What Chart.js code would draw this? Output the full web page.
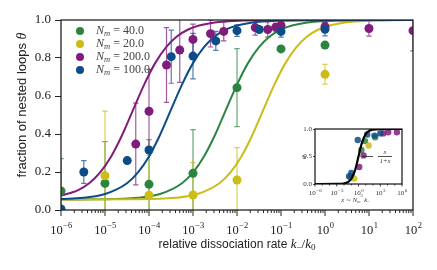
<!DOCTYPE html>
<html lang="en">
<head>
<meta charset="UTF-8">
<title>Fraction of nested loops vs dissociation rate</title>
<script src="https://cdn.jsdelivr.net/npm/chart.js"></script>
<style>
  html, body { margin: 0; padding: 0; background: #fff; }
  #wrap { position: relative; width: 437px; height: 270px; }
  #mainChart { position: absolute; left: 0; top: 0; }
  #insetChart { position: absolute; left: 290px; top: 119px; }
</style>
</head>
<body>
<div id="wrap">
  <canvas id="mainChart" width="437" height="270"></canvas>
  <canvas id="insetChart" width="124" height="91"></canvas>
</div>

<script>
  // ---- main panel data (k = k_-/k_0, theta = fraction of nested loops) ----
  const nm40K     = [1e-6, 1e-5, 1e-4, 1e-3, 1e-2, 1e-1, 1];
  const nm40Theta = [0.10, 0.14, 0.135, 0.193, 0.644, 0.848, 0.868];
  const nm40Err   = [0.17, 0.22, 0.235, 0.23, 0.205, 0, 0];

  const nm20K     = [1e-5, 1e-4, 1e-3, 1e-2, 1];
  const nm20Theta = [0.18, 0.077, 0.079, 0.158, 0.714];
  const nm20Err   = [0.34, 0.21, 0.17, 0.17, 0.052];

  const nm200K     = [5e-5, 1e-4, 2.5e-4, 5e-4, 1e-3, 2.5e-3, 5e-3, 2.6e-2, 5e-2, 7.6e-2, 1e-1, 1, 10, 100];
  const nm200Theta = [0.347, 0.52, 0.763, 0.842, 0.898, 0.928, 0.94, 0.96, 0.95, 0.962, 0.972, 0.965, 0.955, 0.944];
  const nm200Err   = [0.215, 0.22, 0.197, 0.17, 0.08, 0.07, 0.05, 0.04, 0.04, 0.02, 0.02, 0.02, 0.04, 0.107];

  const nm100K     = [1e-6, 3.3e-6, 3.2e-5, 1e-4, 3.2e-4, 1e-3, 3.3e-3, 1e-2, 3.2e-2, 1e-1, 1];
  const nm100Theta = [0.005, 0.20, 0.26, 0.316, 0.807, 0.81, 0.89, 0.944, 0.95, 0.94, 0.951];
  const nm100Err   = [0, 0.06, 0, 0, 0.14, 0.12, 0.05, 0.03, 0, 0.03, 0.035];

  // fitted curves (x = log10 k)
  const fit40LogK  = [-6, -5.25, -4.25, -3.75, -3.25, -3, -2.75, -2.5, -2.25, -2, -1.75, -1.5, -1.25, -1, -0.75, -0.25, 0.25, 0.75, 2];
  const fit40Theta = [0.055, 0.056, 0.064, 0.084, 0.141, 0.198, 0.282, 0.395, 0.528, 0.660, 0.773, 0.857, 0.914, 0.950, 0.971, 0.991, 0.997, 0.999, 1.0];

  const fit20LogK  = [-6, -4.4, -3.4, -2.9, -2.4, -2.15, -1.9, -1.65, -1.4, -1.15, -0.9, -0.65, -0.4, -0.15, 0.1, 0.6, 1.1, 1.6, 2];
  const fit20Theta = [0.055, 0.056, 0.064, 0.084, 0.141, 0.198, 0.282, 0.395, 0.528, 0.660, 0.773, 0.857, 0.914, 0.950, 0.971, 0.991, 0.997, 0.999, 1.0];

  const fit200LogK  = [-6, -5.61, -5.36, -5.11, -4.86, -4.61, -4.36, -4.11, -3.86, -3.61, -3.36, -3.11, -2.86, -2.36, -1.86, -1.36, 2];
  const fit200Theta = [0.076, 0.105, 0.141, 0.198, 0.282, 0.395, 0.528, 0.660, 0.773, 0.857, 0.914, 0.950, 0.971, 0.991, 0.997, 0.999, 1.0];

  const fit100LogK  = [-6, -5.5, -5, -4.5, -4.25, -4, -3.75, -3.5, -3.25, -3, -2.75, -2.5, -2.25, -2, -1.5, -1, -0.5, 2];
  const fit100Theta = [0.058, 0.064, 0.084, 0.141, 0.198, 0.282, 0.395, 0.528, 0.660, 0.773, 0.857, 0.914, 0.950, 0.971, 0.991, 0.997, 0.999, 1.0];

  // ---- inset data (x = log10 of scaled rate) ----
  const insetBlueLogX   = [-1.3, -1.0, -0.1, 1.2, 2.2, 3.0];
  const insetBlueY      = [0.14, 0.20, 0.80, 0.90, 0.88, 0.92];
  const insetPurpleLogX = [0.1, 0.7, 3.4, 4.1, 5.3];
  const insetPurpleY    = [0.31, 0.52, 0.92, 0.94, 0.94];
  const insetYellowLogX = [-0.6, 1.4];
  const insetYellowY    = [0.10, 0.70];
  const insetGreenLogX  = [-1.1, 0.4, 0.9, 2.3];
  const insetGreenY     = [0.12, 0.62, 0.78, 0.85];
  const insetCurveLogX  = [-6, -3, -2, -1.5, -1, -0.5, -0.25, 0, 0.25, 0.5, 1, 1.5, 2, 3, 6];
  const insetCurveY     = [0, 0.001, 0.0099, 0.031, 0.091, 0.240, 0.360, 0.5, 0.640, 0.760, 0.909, 0.969, 0.990, 0.999, 1];

  const xDecades = [-6, -5, -4, -3, -2, -1, 0, 1, 2];
  const yTicks = [0, 0.2, 0.4, 0.6, 0.8, 1.0];
  const insetXDecades = [-6, -3, 0, 3, 6];

  const GREEN = '#2b8540', YELLOW = '#cbbd16', PURPLE = '#801c7c', BLUE = '#0d4b89';
  const SERIF = '"Liberation Serif", "DejaVu Serif", serif';
  const SANS = '"Liberation Sans", Arial, sans-serif';

  // series in legend order
  const series = [
    { label: '40.0',  color: GREEN,  k: nm40K,  theta: nm40Theta,  err: nm40Err,  fitX: fit40LogK,  fitY: fit40Theta,  order: 3 },
    { label: '20.0',  color: YELLOW, k: nm20K,  theta: nm20Theta,  err: nm20Err,  fitX: fit20LogK,  fitY: fit20Theta,  order: 2 },
    { label: '200.0', color: PURPLE, k: nm200K, theta: nm200Theta, err: nm200Err, fitX: fit200LogK, fitY: fit200Theta, order: 1 },
    { label: '100.0', color: BLUE,   k: nm100K, theta: nm100Theta, err: nm100Err, fitX: fit100LogK, fitY: fit100Theta, order: 0 }
  ];

  function alpha(hex, a) {
    const n = parseInt(hex.slice(1), 16);
    return `rgba(${n >> 16}, ${(n >> 8) & 255}, ${n & 255}, ${a})`;
  }

  // "10" with a raised exponent, centred on cx
  function drawPow(ctx, e, cx, cy, baseSize, expSize, color) {
    const expText = e < 0 ? '\u2212' + Math.abs(e) : String(e);
    ctx.fillStyle = color;
    ctx.textBaseline = 'middle';
    ctx.textAlign = 'left';
    ctx.font = `${baseSize}px ${SERIF}`;
    const wb = ctx.measureText('10').width;
    ctx.font = `${expSize}px ${SERIF}`;
    const we = ctx.measureText(expText).width;
    const x0 = cx - (wb + we) / 2;
    ctx.font = `${baseSize}px ${SERIF}`;
    ctx.fillText('10', x0, cy);
    ctx.font = `${expSize}px ${SERIF}`;
    ctx.fillText(expText, x0 + wb + 0.5, cy - baseSize * 0.38);
  }

  // write a row of [text, font, dy] pieces starting at x
  function drawPieces(ctx, pieces, x, y) {
    let cx = x;
    pieces.forEach(([t, f, dy]) => {
      ctx.font = f;
      ctx.fillText(t, cx, y + (dy || 0));
      cx += ctx.measureText(t).width;
    });
    return cx;
  }
  function piecesWidth(ctx, pieces) {
    let w = 0;
    pieces.forEach(([t, f]) => { ctx.font = f; w += ctx.measureText(t).width; });
    return w;
  }

  const mainDecor = {
    id: 'mainDecor',
    beforeDatasetsDraw(chart) {
      const { ctx, chartArea: a, scales: { x, y } } = chart;
      ctx.save();
      ctx.beginPath();
      ctx.rect(a.left, a.top, a.right - a.left, a.bottom - a.top);
      ctx.clip();
      ctx.lineWidth = 1.2;
      series.forEach(s => {
        ctx.strokeStyle = alpha(s.color, 0.72);
        s.k.forEach((k, i) => {
          const e = s.err[i];
          if (!e) return;
          const px = x.getPixelForValue(Math.log10(k));
          const y1 = y.getPixelForValue(s.theta[i] + e);
          const y2 = y.getPixelForValue(s.theta[i] - e);
          ctx.beginPath();
          ctx.moveTo(px, y1); ctx.lineTo(px, y2);
          ctx.moveTo(px - 2.7, y1); ctx.lineTo(px + 2.7, y1);
          ctx.moveTo(px - 2.7, y2); ctx.lineTo(px + 2.7, y2);
          ctx.stroke();
        });
      });
      ctx.restore();
    },
    afterDraw(chart) {
      const { ctx, chartArea: a, scales: { x } } = chart;
      ctx.save();
      // frame
      ctx.strokeStyle = '#222';
      ctx.lineWidth = 1.3;
      ctx.strokeRect(a.left, a.top, a.right - a.left, a.bottom - a.top);

      // x ticks, major and minor, and power-of-ten labels
      ctx.lineWidth = 1;
      ctx.beginPath();
      xDecades.forEach((n, i) => {
        const px = x.getPixelForValue(n);
        ctx.moveTo(px, a.bottom); ctx.lineTo(px, a.bottom + 6);
        if (i < xDecades.length - 1) {
          for (let m = 2; m <= 9; m++) {
            const p = x.getPixelForValue(n + Math.log10(m));
            ctx.moveTo(p, a.bottom); ctx.lineTo(p, a.bottom + 3);
          }
        }
      });
      ctx.stroke();
      xDecades.forEach(n => drawPow(ctx, n, x.getPixelForValue(n), a.bottom + 21, 12.5, 8.5, '#222'));

      // x title
      ctx.fillStyle = '#222';
      ctx.textBaseline = 'middle';
      ctx.textAlign = 'left';
      const xt = [
        ['relative dissociation rate ', `12px ${SANS}`],
        ['k', `italic 13px ${SERIF}`],
        ['\u2212', `9px ${SERIF}`, 3],
        ['/', `13px ${SERIF}`],
        ['k', `italic 13px ${SERIF}`],
        ['0', `9px ${SERIF}`, 3]
      ];
      const xtw = piecesWidth(ctx, xt);
      drawPieces(ctx, xt, (a.left + a.right) / 2 - xtw / 2, 245);

      // y title
      const yt = [
        ['fraction of nested loops ', `13px ${SANS}`],
        ['\u03b8', `italic 14px ${SERIF}`]
      ];
      const ytw = piecesWidth(ctx, yt);
      ctx.save();
      ctx.translate(22, 105);
      ctx.rotate(-Math.PI / 2);
      drawPieces(ctx, yt, -ytw / 2, 0);
      ctx.restore();

      // legend
      series.forEach((s, i) => {
        const ly = 31 + i * 13;
        ctx.fillStyle = s.color;
        ctx.beginPath();
        ctx.arc(80, ly, 4, 0, Math.PI * 2);
        ctx.fill();
        ctx.fillStyle = '#444';
        drawPieces(ctx, [
          ['N', `italic 12px ${SERIF}`],
          ['m', `italic 8.5px ${SERIF}`, 3],
          [' = ' + s.label, `12px ${SERIF}`]
        ], 96, ly);
      });
      ctx.restore();
    }
  };

  const mainDatasets = [];
  series.forEach(s => {
    mainDatasets.push({
      type: 'scatter',
      data: s.k.map((k, i) => ({ x: Math.log10(k), y: s.theta[i] })),
      backgroundColor: s.color,
      borderWidth: 0,
      pointRadius: 4.5,
      clip: 0,
      order: s.order
    });
    mainDatasets.push({
      type: 'line',
      data: s.fitX.map((v, i) => ({ x: v, y: s.fitY[i] })),
      borderColor: s.color,
      borderWidth: 2,
      pointRadius: 0,
      fill: false,
      cubicInterpolationMode: 'monotone',
      clip: 0,
      order: 10 + s.order
    });
  });

  new Chart(document.getElementById('mainChart'), {
    type: 'scatter',
    data: { datasets: mainDatasets },
    options: {
      responsive: false,
      animation: false,
      devicePixelRatio: 1,
      layout: { padding: { top: 20, right: 24, left: 0, bottom: 0 } },
      plugins: { legend: { display: false }, tooltip: { enabled: false } },
      scales: {
        x: {
          type: 'linear', min: -6, max: 2,
          ticks: { display: false },
          grid: { display: false },
          border: { display: false },
          afterFit: s => { s.height = 60; }
        },
        y: {
          type: 'linear', min: 0, max: 1,
          afterBuildTicks: s => { s.ticks = yTicks.map(v => ({ value: v })); },
          ticks: {
            font: { family: SERIF, size: 13 }, color: '#222', padding: 4,
            callback: v => v.toFixed(1)
          },
          grid: { drawOnChartArea: false, tickLength: 6, color: '#222', lineWidth: 1 },
          border: { display: false },
          afterFit: s => { s.width = 61; }
        }
      }
    },
    plugins: [mainDecor]
  });

  // ---- inset ----
  const insetDecor = {
    id: 'insetDecor',
    beforeDraw(chart) {
      const { ctx, chartArea: a } = chart;
      ctx.save();
      ctx.fillStyle = '#fff';
      ctx.fillRect(a.left, a.top, a.right - a.left, a.bottom - a.top);
      ctx.restore();
    },
    afterDraw(chart) {
      const { ctx, chartArea: a, scales: { x } } = chart;
      ctx.save();
      ctx.strokeStyle = '#111';
      ctx.lineWidth = 1.2;
      ctx.strokeRect(a.left, a.top, a.right - a.left, a.bottom - a.top);
      ctx.lineWidth = 0.8;
      ctx.beginPath();
      for (let n = -6; n <= 6; n++) {
        const p = x.getPixelForValue(n);
        const len = insetXDecades.includes(n) ? 2.5 : 1.5;
        ctx.moveTo(p, a.bottom); ctx.lineTo(p, a.bottom + len);
      }
      ctx.stroke();
      insetXDecades.forEach(n => drawPow(ctx, n, x.getPixelForValue(n), a.bottom + 9, 7, 5, '#333'));

      ctx.fillStyle = '#333';
      ctx.textBaseline = 'middle';
      ctx.textAlign = 'left';
      const xt = [
        ['x', `italic 6.5px ${SERIF}`],
        [' \u223c ', `6.5px ${SERIF}`],
        ['N', `italic 6.5px ${SERIF}`],
        ['m', `italic 4.5px ${SERIF}`, 1.8],
        ['3', `4.5px ${SERIF}`, -4.2],
        [' k', `italic 6.5px ${SERIF}`],
        ['\u2212', `4.5px ${SERIF}`, 1.8]
      ];
      const w = piecesWidth(ctx, xt);
      drawPieces(ctx, xt, (a.left + a.right) / 2 - w / 2 - 3, a.bottom + 16);

      // rotated y title
      ctx.save();
      ctx.translate(a.left - 11, (a.top + a.bottom) / 2 + 1);
      ctx.rotate(-Math.PI / 2);
      ctx.font = `italic 7px ${SERIF}`;
      ctx.textAlign = 'center';
      ctx.fillText('\u03d1', 0, 0);
      ctx.restore();

      // curve label x/(1+x)
      const ly = a.top + 27.5;
      ctx.strokeStyle = '#222';
      ctx.lineWidth = 0.8;
      ctx.beginPath();
      ctx.moveTo(a.left + 47, ly); ctx.lineTo(a.left + 58, ly);
      ctx.moveTo(a.left + 63, ly); ctx.lineTo(a.left + 77, ly);
      ctx.stroke();
      ctx.textAlign = 'center';
      ctx.font = `italic 6.5px ${SERIF}`;
      ctx.fillText('x', a.left + 70, ly - 4);
      ctx.fillText('1+x', a.left + 70, ly + 4.5);
      ctx.restore();
    }
  };

  const insetSets = [
    [insetGreenLogX, insetGreenY, GREEN, 4],
    [insetYellowLogX, insetYellowY, YELLOW, 3],
    [insetPurpleLogX, insetPurpleY, PURPLE, 2],
    [insetBlueLogX, insetBlueY, BLUE, 1]
  ];
  const insetDatasets = insetSets.map(([xs, ys, c, o]) => ({
    type: 'scatter',
    data: xs.map((v, i) => ({ x: v, y: ys[i] })),
    backgroundColor: alpha(c, 0.85),
    borderWidth: 0,
    pointRadius: 3.2,
    clip: 0,
    order: o
  }));
  insetDatasets.push({
    type: 'line',
    data: insetCurveLogX.map((v, i) => ({ x: v, y: insetCurveY[i] })),
    borderColor: '#000',
    borderWidth: 2.2,
    pointRadius: 0,
    fill: false,
    cubicInterpolationMode: 'monotone',
    clip: 0,
    order: 0
  });

  new Chart(document.getElementById('insetChart'), {
    type: 'scatter',
    data: { datasets: insetDatasets },
    options: {
      responsive: false,
      animation: false,
      devicePixelRatio: 1,
      layout: { padding: { top: 10, right: 12, left: 0, bottom: 0 } },
      plugins: { legend: { display: false }, tooltip: { enabled: false } },
      scales: {
        x: {
          type: 'linear', min: -6, max: 6,
          ticks: { display: false },
          grid: { display: false },
          border: { display: false },
          afterFit: s => { s.height = 26; }
        },
        y: {
          type: 'linear', min: 0, max: 1,
          afterBuildTicks: s => { s.ticks = [0, 0.5, 1].map(v => ({ value: v })); },
          ticks: {
            font: { family: SERIF, size: 7 }, color: '#333', padding: 1,
            callback: v => v.toFixed(1)
          },
          grid: { drawOnChartArea: false, tickLength: 2, color: '#222', lineWidth: 0.8 },
          border: { display: false },
          afterFit: s => { s.width = 25; }
        }
      }
    },
    plugins: [insetDecor]
  });
</script>
</body>
</html>
